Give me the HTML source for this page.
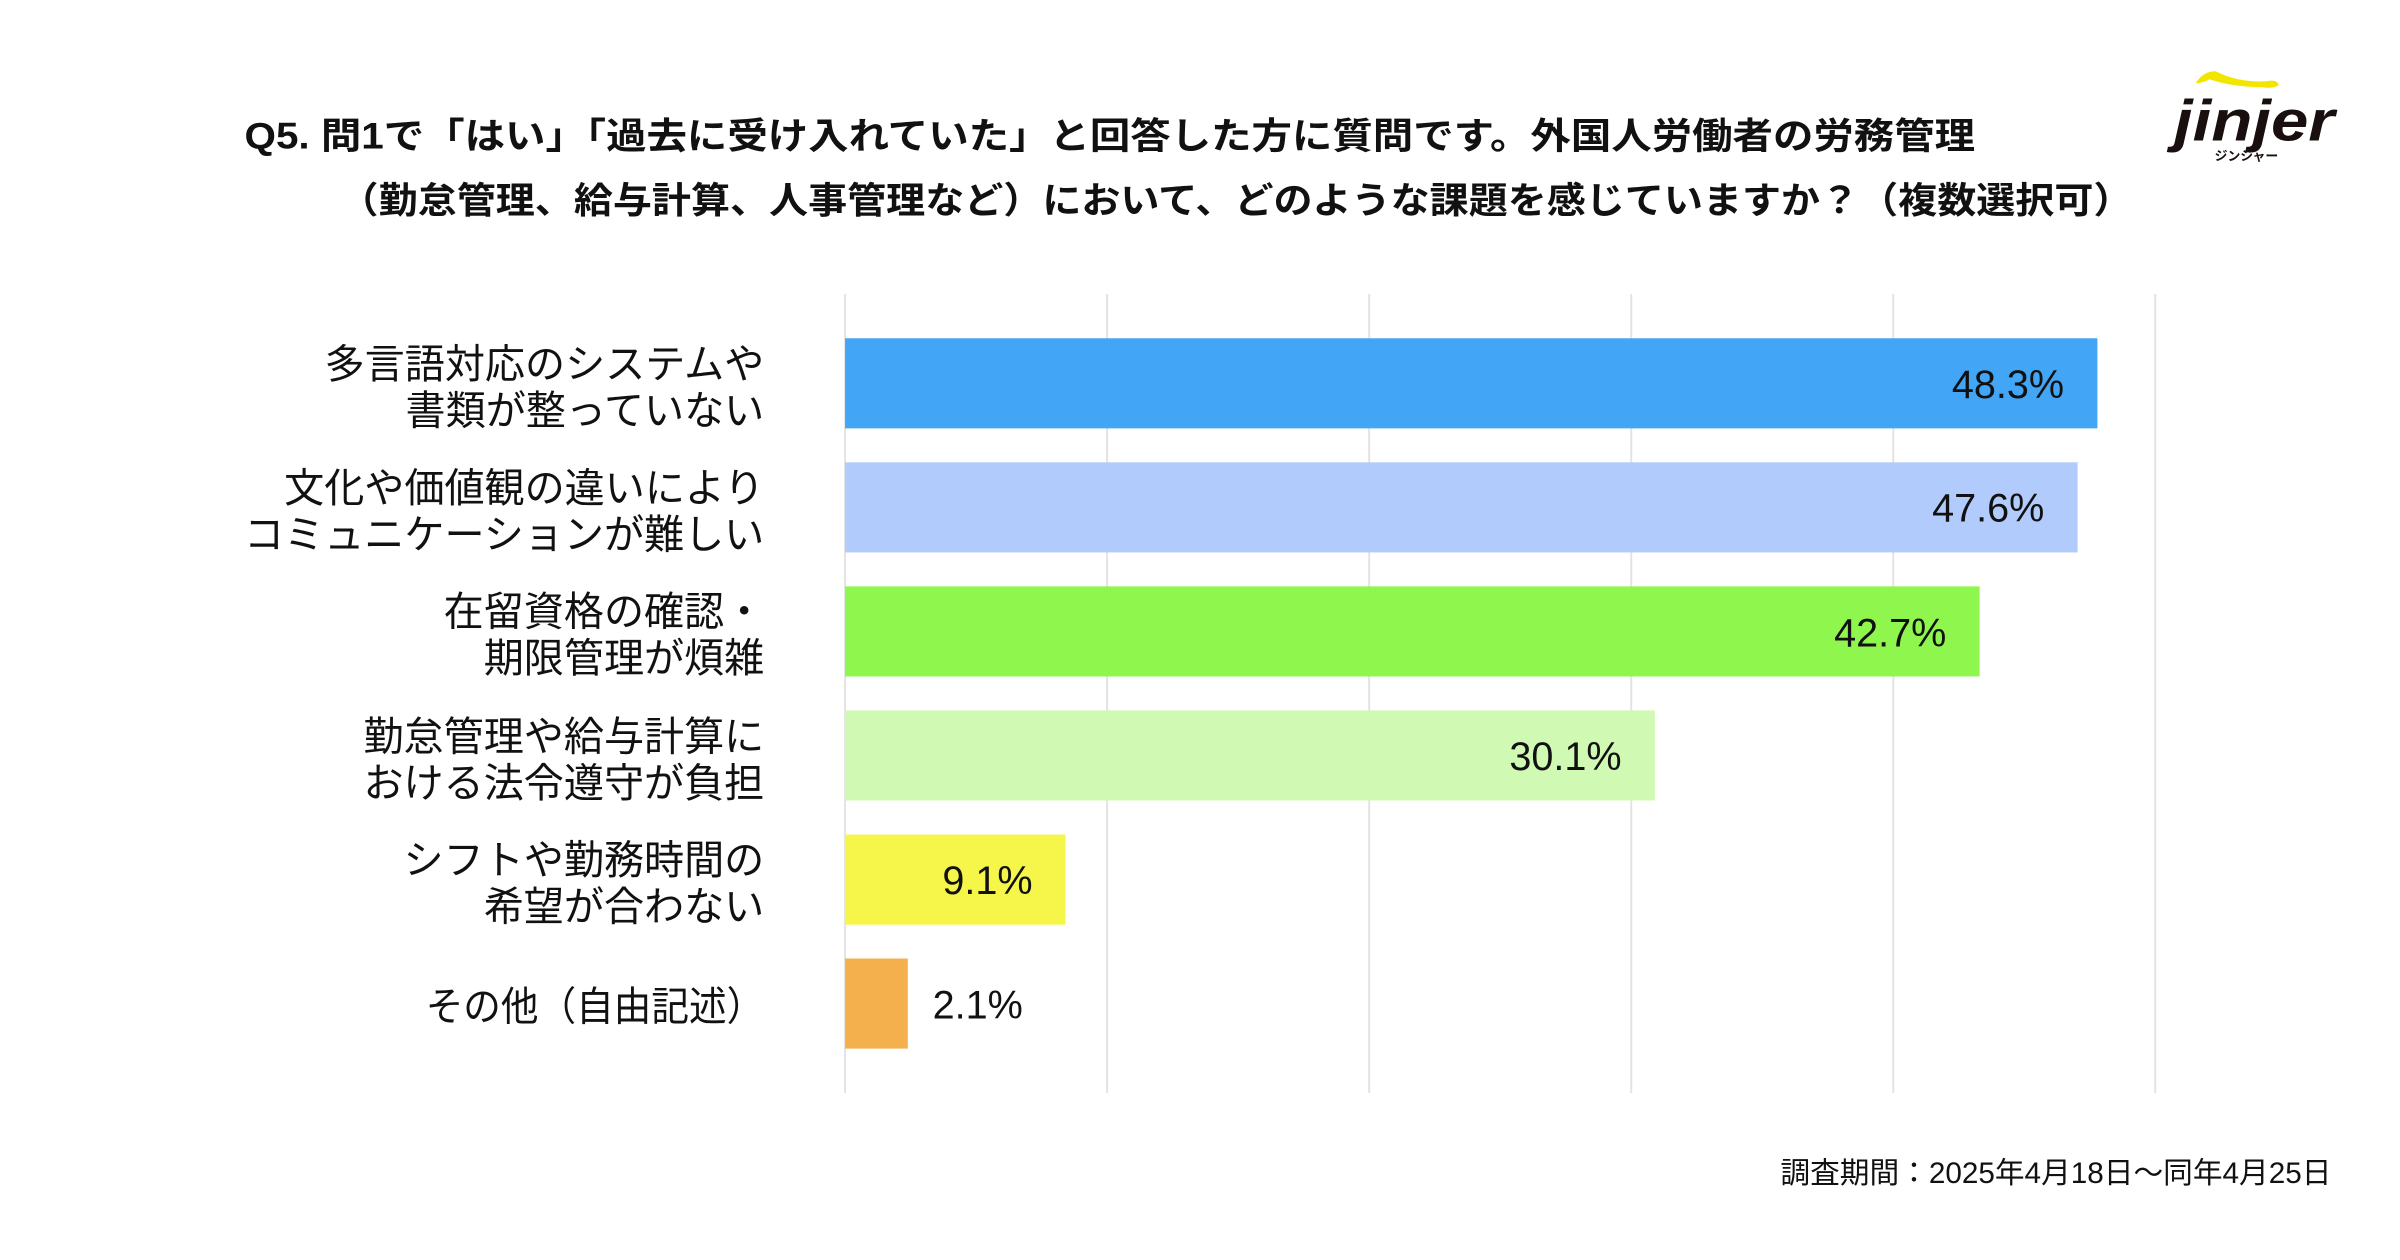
<!DOCTYPE html>
<html><head><meta charset="utf-8"><style>
html,body{margin:0;padding:0;background:#fff;}
svg{display:block;}
text{font-family:"Liberation Sans","Noto Sans CJK JP",sans-serif;}
</style></head><body>
<svg width="2400" height="1260" viewBox="0 0 2400 1260" xmlns="http://www.w3.org/2000/svg">
<rect width="2400" height="1260" fill="#fff"/>
<g transform="scale(0.99)">
<g font-family="Noto Sans CJK JP, sans-serif" font-weight="bold" font-size="37" fill="#111">
<text x="247" y="150" textLength="1748" lengthAdjust="spacingAndGlyphs">Q5. 問1で「はい」「過去に受け入れていた」と回答した方に質問です。外国人労働者の労務管理</text>
<text x="343" y="215" textLength="1811" lengthAdjust="spacingAndGlyphs">（勤怠管理、給与計算、人事管理など）において、どのような課題を感じていますか？（複数選択可）</text>
</g>
<!-- logo -->
<path d="M2218 84 Q2225 72 2238 72 Q2262 84 2290 82 Q2300 80 2302 86 Q2295 90 2285 88 Q2255 88 2232 80 Q2225 84 2218 84Z" fill="#f2e600"/>
<text x="2196" y="142" font-family="Liberation Sans, sans-serif" font-weight="bold" font-style="italic" font-size="58" fill="#1a0f0f" textLength="162" lengthAdjust="spacingAndGlyphs">jinjer</text>
<text x="2237" y="162" font-family="Noto Sans CJK JP, sans-serif" font-weight="bold" font-size="13" fill="#1a0f0f">ジンジャー</text>
<!-- grid -->
<g stroke="#e3e3e3" stroke-width="2">
<line x1="1118.3" y1="297" x2="1118.3" y2="1104"/>
<line x1="1383" y1="297" x2="1383" y2="1104"/>
<line x1="1647.7" y1="297" x2="1647.7" y2="1104"/>
<line x1="1912.4" y1="297" x2="1912.4" y2="1104"/>
<line x1="2177" y1="297" x2="2177" y2="1104"/>
<line x1="853.6" y1="297" x2="853.6" y2="1104"/>
</g>
<!-- bars -->
<rect x="853.6" y="341.7" width="1265" height="91" fill="#43a5f5"/>
<rect x="853.6" y="467" width="1245" height="91" fill="#b1cbfc"/>
<rect x="853.6" y="592.3" width="1146" height="91" fill="#8ff64e"/>
<rect x="853.6" y="717.6" width="818" height="91" fill="#d0f9b3"/>
<rect x="853.6" y="843" width="222.7" height="91" fill="#f5f54a"/>
<rect x="853.6" y="968.2" width="63.4" height="91" fill="#f4b04c"/>
<g font-size="40" fill="#111">
<text x="2085" y="402" text-anchor="end">48.3%</text>
<text x="2065" y="527" text-anchor="end">47.6%</text>
<text x="1966" y="653" text-anchor="end">42.7%</text>
<text x="1638" y="778" text-anchor="end">30.1%</text>
<text x="1043" y="903" text-anchor="end">9.1%</text>
<text x="942" y="1029">2.1%</text>
</g>
<g font-size="40.5" fill="#111" text-anchor="end">
<text x="772" y="382">多言語対応のシステムや</text>
<text x="772" y="429">書類が整っていない</text>
<text x="772" y="507">文化や価値観の違いにより</text>
<text x="772" y="554">コミュニケーションが難しい</text>
<text x="772" y="632">在留資格の確認・</text>
<text x="772" y="679">期限管理が煩雑</text>
<text x="772" y="758">勤怠管理や給与計算に</text>
<text x="772" y="805">おける法令遵守が負担</text>
<text x="772" y="883">シフトや勤務時間の</text>
<text x="772" y="930">希望が合わない</text>
<text x="772" y="1031" textLength="342" lengthAdjust="spacingAndGlyphs">その他（自由記述）</text>
</g>
<text x="2355" y="1195" font-size="30" fill="#111" text-anchor="end">調査期間：2025年4月18日～同年4月25日</text>
</g>
</svg>
</body></html>
